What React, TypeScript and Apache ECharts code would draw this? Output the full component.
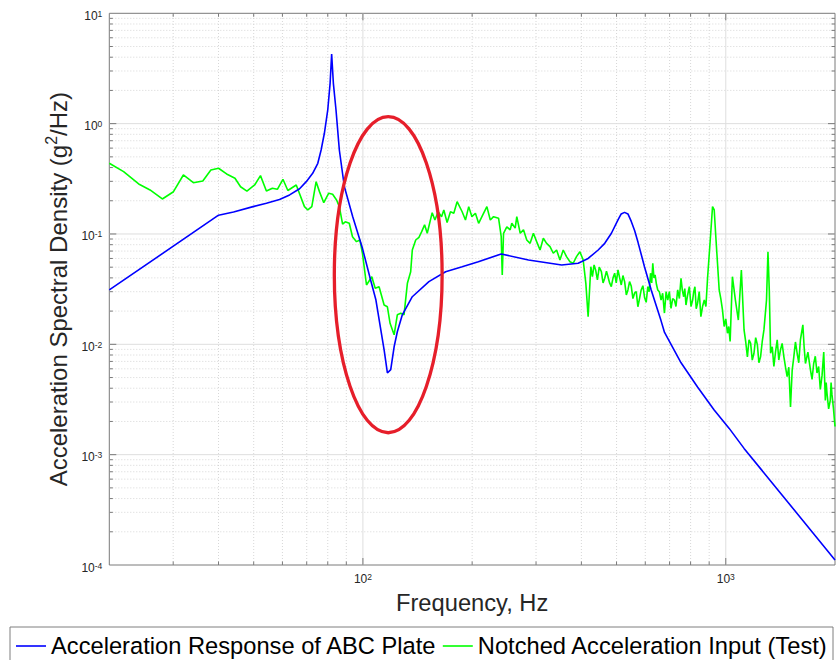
import React, { useEffect, useRef } from 'react';
import * as echarts from 'echarts';

// Acceleration Response of ABC Plate (frequency Hz, ASD g^2/Hz)
const blueFreq = [20, 40, 44, 49.8, 54.2, 58.9, 62.8, 66.9, 69.8, 72.7, 75.1, 76.7, 78.3, 80, 81.2, 82, 82.9, 84.3, 86.1, 88.9, 93.7, 99.7, 105, 108.6, 114.4, 116.8, 119.3, 121.9, 124.4, 128.4, 136.8, 152, 169, 187.7, 208, 240.5, 286, 353, 392, 417.5, 445, 463.9, 484, 504.6, 515, 526, 537.5, 549, 561, 573, 597, 623, 663, 678, 753, 836, 929, 1022, 1123, 2000];
const blueAsd = [0.0311, 0.148, 0.158, 0.177, 0.19, 0.205, 0.226, 0.257, 0.298, 0.355, 0.437, 0.577, 0.818, 1.33, 2.32, 4.28, 2.32, 1.33, 0.577, 0.268, 0.144, 0.0741, 0.0383, 0.0252, 0.0089, 0.0055, 0.0059, 0.0095, 0.013, 0.0185, 0.027, 0.037, 0.0455, 0.0505, 0.0561, 0.0659, 0.058, 0.0524, 0.0543, 0.06, 0.0716, 0.0823, 0.1015, 0.134, 0.152, 0.157, 0.152, 0.13, 0.107, 0.084, 0.0505, 0.0311, 0.0164, 0.0128, 0.0068, 0.0041, 0.00254, 0.00173, 0.00114, 0.000111];

// Notched Acceleration Input (Test)
const greenFreq = [
  20, 21.9, 24.1, 25.9, 28, 30.05, 32, 34.1, 36.2, 38.1, 40, 42.1, 44.4, 46, 47.9, 50.3, 52.2, 54.2, 56.3, 58.1, 60.2, 62.1, 65.5, 69, 70.5, 72.3, 74.3, 75.9, 78, 80.5, 82.5, 84.6, 86.1, 87.9, 89.4, 91.7, 93.6, 96, 98.1, 99.7, 102.3, 105.8, 108.1, 110.8, 114.4, 116.8, 118.8, 121.9, 124.4, 127.1, 129.8, 132.6, 135.4, 136.8, 139.8, 142.7, 145.2, 147.9, 150.4, 155.2, 157.9, 161.2, 164.7, 167.1, 170.6, 174.3, 178, 181.8, 187.7, 191.7, 195.7, 199.7, 204.2, 208.4, 212.8, 219.6, 224.4, 229.1, 236.5, 240.5, 242.1, 244.1, 249.2, 254.6, 257.2, 262.8, 265.5, 271.3, 277, 282.8, 288.9, 295, 301.2, 307.7, 314.2, 320.8, 327.8, 334.7, 341.8, 349.1, 356.5, 364, 372, 379.8, 387.8, 396.2, 404.6, 411.5, 417.5,
  424.7, 429, 433.6, 438, 442.8, 448, 454.1, 459, 463.9, 469,
  473.6, 478.5, 483.6, 489, 494.1, 499, 504.6, 510, 515.2, 520.7,
  526.3, 532, 537.5, 543, 548.8, 554.8, 560.8, 566.6, 572.5, 578.5,
  584.6, 591, 597.3, 603.5, 609.8, 615, 620.3, 625, 629.3, 634,
  638.6, 644, 649.5, 656, 663.2, 670, 677.6, 684.8, 692, 699,
  706.5, 714, 721.9, 729, 737.1, 745, 752.7, 759, 765.6, 771,
  776.8, 785, 793.6, 802, 810.4, 816, 822.2, 829, 836.3, 845,
  853.9, 863, 872.5, 881.6, 890.8, 906.2, 919.4, 929.3, 938.8, 959.1,
  969, 979.3, 989.9, 1000, 1011, 1019, 1028, 1043, 1063, 1083,
  1104, 1123, 1135, 1147, 1159, 1171, 1183, 1196, 1209, 1222,
  1234, 1247, 1260, 1274, 1295, 1307, 1318, 1329, 1343, 1357,
  1371, 1386, 1400, 1415, 1430, 1446, 1461, 1476, 1492, 1508,
  1524, 1540, 1556, 1573, 1589, 1606, 1631, 1644, 1658, 1684,
  1711, 1729, 1747, 1765, 1784, 1803, 1822, 1842, 1862, 1881,
  1891, 1901, 1921, 1941, 1951, 1962, 1981, 2000,
];
const greenAsd = [
  0.437, 0.367, 0.284, 0.2505, 0.2076, 0.2416, 0.3425, 0.2916, 0.302, 0.38, 0.394, 0.35, 0.32, 0.268, 0.245, 0.278, 0.338, 0.245, 0.26, 0.254, 0.313, 0.248, 0.278, 0.177, 0.165, 0.177, 0.298, 0.242, 0.192, 0.234, 0.229, 0.203, 0.177, 0.123, 0.129, 0.125, 0.0945, 0.0852, 0.0882, 0.0669, 0.0345, 0.041, 0.0322, 0.0333, 0.0227, 0.0219, 0.0155, 0.0122, 0.0185, 0.0191, 0.0185, 0.0357, 0.0455, 0.0716, 0.0882, 0.0933, 0.105, 0.121, 0.1015, 0.156, 0.134, 0.159, 0.1435, 0.165, 0.127, 0.159, 0.154, 0.196, 0.159, 0.134, 0.177, 0.1435, 0.154, 0.125, 0.1435, 0.177, 0.134, 0.1435, 0.139, 0.0945, 0.0425, 0.1015, 0.116, 0.109, 0.125, 0.113, 0.1435, 0.1015, 0.109, 0.0882, 0.0823, 0.1015, 0.0852, 0.0716, 0.0914, 0.0823, 0.0767, 0.0669, 0.0716, 0.0581, 0.0716, 0.0623, 0.0561, 0.0543, 0.0623, 0.0691, 0.0581, 0.0357, 0.0178,
  0.0505, 0.041, 0.0524, 0.047, 0.0383, 0.05, 0.0455, 0.036, 0.0397, 0.046,
  0.041, 0.036, 0.0333, 0.04, 0.0441, 0.036, 0.0472, 0.04, 0.0345, 0.042,
  0.037, 0.028, 0.0311, 0.037, 0.0338, 0.026, 0.0292, 0.03, 0.0219, 0.026,
  0.0311, 0.034, 0.0266, 0.024, 0.0333, 0.03, 0.0441, 0.036, 0.0543, 0.04,
  0.0425, 0.035, 0.0311, 0.03, 0.0252, 0.029, 0.0192, 0.03, 0.0252, 0.03,
  0.0212, 0.026, 0.0252, 0.022, 0.0311, 0.026, 0.0397, 0.031, 0.027, 0.032,
  0.0227, 0.028, 0.0333, 0.022, 0.0252, 0.03, 0.0333, 0.021, 0.0236, 0.03,
  0.0178, 0.022, 0.0252, 0.022, 0.0397, 0.0882, 0.177, 0.165, 0.0945, 0.0311,
  0.026, 0.0205, 0.0145, 0.017, 0.0126, 0.0145, 0.0106, 0.041, 0.0252, 0.0166,
  0.0472, 0.0135, 0.0105, 0.0077, 0.011, 0.0102, 0.0072, 0.0083, 0.0115, 0.0099,
  0.0068, 0.0077, 0.0105, 0.0135, 0.0252, 0.0691, 0.0311, 0.0083, 0.0095, 0.0063,
  0.0085, 0.011, 0.0072, 0.0089, 0.0102, 0.0077, 0.0062, 0.0051, 0.0062, 0.0027,
  0.0058, 0.0077, 0.0105, 0.0083, 0.0068, 0.011, 0.015, 0.0095, 0.0067, 0.0085,
  0.0059, 0.0048, 0.0067, 0.0078, 0.0055, 0.0063, 0.0039, 0.0052, 0.0085, 0.0031,
  0.0045, 0.0036, 0.0026, 0.0031, 0.0045, 0.0035, 0.0026, 0.0018,
];

// axis ranges and tick values
const xRange = [20, 2000];
const yRange = [1e-4, 10];
const xMajorTicks = [100, 1000];
const xMinorTicks = [30, 40, 50, 60, 70, 80, 90, 200, 300, 400, 500, 600, 700, 800, 900];
const yMajorTicks = [1e-3, 1e-2, 1e-1, 1];
const yMinorTicks = [
  2e-4, 3e-4, 4e-4, 5e-4, 6e-4, 7e-4, 8e-4, 9e-4,
  2e-3, 3e-3, 4e-3, 5e-3, 6e-3, 7e-3, 8e-3, 9e-3,
  0.02, 0.03, 0.04, 0.05, 0.06, 0.07, 0.08, 0.09,
  0.2, 0.3, 0.4, 0.5, 0.6, 0.7, 0.8, 0.9,
  2, 3, 4, 5, 6, 7, 8, 9,
];

// red annotation ellipse extents (data coordinates)
const ellipseFreq = [83.4, 165.3];
const ellipseAsd = [0.00158, 1.156];

const FONT = "'Liberation Sans', Arial, Helvetica, sans-serif";
const SERIES_BLUE = 'Acceleration Response of ABC Plate';
const SERIES_GREEN = 'Notched Acceleration Input (Test)';

export default function App() {
  const ref = useRef<HTMLDivElement>(null);
  useEffect(() => {
    if (!ref.current) return;
    const chart = echarts.init(ref.current, null, { renderer: 'svg' });

    const expLabel = (v: number) => {
      const e = Math.log10(v);
      const r = Math.round(e);
      if (Math.abs(e - r) > 1e-6) return '';
      return `{b|10}{s|${r}}`;
    };
    const labelRich = {
      b: { fontSize: 12, lineHeight: 14, padding: [5, 0, 0, 0], color: '#262626', fontFamily: FONT },
      s: { fontSize: 8.5, lineHeight: 10, padding: [3, 0, 0, 0], verticalAlign: 'top', color: '#262626', fontFamily: FONT },
    };

    const gridRender = (_params: any, api: any) => {
      const ch: any[] = [];
      const major = { stroke: '#dedede', lineWidth: 1 };
      const minor = { stroke: '#cdcdcd', lineWidth: 0.8, lineDash: [1, 2] };
      const tickStyle = { stroke: '#7a7a7a', lineWidth: 1 };
      const seg = (a: number[], b: number[], style: any) =>
        ch.push({ type: 'line', shape: { x1: a[0], y1: a[1], x2: b[0], y2: b[1] }, style });
      xMinorTicks.forEach((x) => seg(api.coord([x, yRange[0]]), api.coord([x, yRange[1]]), minor));
      yMinorTicks.forEach((y) => seg(api.coord([xRange[0], y]), api.coord([xRange[1], y]), minor));
      xMajorTicks.forEach((x) => seg(api.coord([x, yRange[0]]), api.coord([x, yRange[1]]), major));
      yMajorTicks.forEach((y) => seg(api.coord([xRange[0], y]), api.coord([xRange[1], y]), major));
      const xt = (x: number, len: number) => {
        const a = api.coord([x, yRange[0]]);
        const b = api.coord([x, yRange[1]]);
        seg(a, [a[0], a[1] - len], tickStyle);
        seg(b, [b[0], b[1] + len], tickStyle);
      };
      const yt = (y: number, len: number) => {
        const a = api.coord([xRange[0], y]);
        const b = api.coord([xRange[1], y]);
        seg(a, [a[0] + len, a[1]], tickStyle);
        seg(b, [b[0] - len, b[1]], tickStyle);
      };
      xMajorTicks.forEach((x) => xt(x, 7));
      xMinorTicks.forEach((x) => xt(x, 3.5));
      yMajorTicks.forEach((y) => yt(y, 7));
      yMinorTicks.forEach((y) => yt(y, 3.5));
      return { type: 'group', children: ch };
    };

    const ellipseRender = (_params: any, api: any) => {
      const cf = Math.sqrt(ellipseFreq[0] * ellipseFreq[1]);
      const cv = Math.sqrt(ellipseAsd[0] * ellipseAsd[1]);
      const l = api.coord([ellipseFreq[0], cv]);
      const r = api.coord([ellipseFreq[1], cv]);
      const t = api.coord([cf, ellipseAsd[1]]);
      const b = api.coord([cf, ellipseAsd[0]]);
      return {
        type: 'ellipse',
        shape: { cx: (l[0] + r[0]) / 2, cy: (t[1] + b[1]) / 2, rx: (r[0] - l[0]) / 2, ry: (b[1] - t[1]) / 2 },
        style: { fill: 'none', stroke: '#e61e2a', lineWidth: 3.3 },
      };
    };

    chart.setOption({
      animation: false,
      textStyle: { fontFamily: FONT },
      grid: { left: 109.3, top: 13.3, right: 0.8, bottom: 95, show: true, borderColor: '#7a7a7a', borderWidth: 1, backgroundColor: '#ffffff' },
      legend: {
        data: [
          { name: SERIES_BLUE, icon: 'rect' },
          { name: SERIES_GREEN, icon: 'rect' },
        ],
        left: 10,
        top: 627,
        padding: [7, 5, 7, 6],
        itemGap: 6,
        itemWidth: 30,
        itemHeight: 1.6,
        borderColor: '#7f7f7f',
        borderWidth: 1,
        textStyle: { fontSize: 23.7, color: '#000', fontFamily: FONT },
      },
      xAxis: {
        type: 'log',
        logBase: 10,
        min: xRange[0],
        max: xRange[1],
        splitNumber: 2,
        axisLine: { show: false },
        axisTick: { show: false },
        splitLine: { show: false },
        axisLabel: { formatter: expLabel, margin: 4, rich: labelRich, showMinLabel: true, showMaxLabel: true },
        name: 'Frequency, Hz',
        nameLocation: 'middle',
        nameGap: 26,
        nameTextStyle: { fontSize: 23.7, color: '#262626', fontFamily: FONT },
      },
      yAxis: {
        type: 'log',
        logBase: 10,
        min: yRange[0],
        max: yRange[1],
        splitNumber: 5,
        axisLine: { show: false },
        axisTick: { show: false },
        splitLine: { show: false },
        axisLabel: { formatter: expLabel, margin: 7, rich: labelRich },
        name: '{n|Acceleration Spectral Density (g}{sup|2}{n|/Hz)}',
        nameLocation: 'middle',
        nameGap: 27,
        nameTextStyle: {
          color: '#262626',
          rich: {
            n: { fontSize: 24, lineHeight: 30, color: '#262626', fontFamily: FONT },
            sup: { fontSize: 16, lineHeight: 18, verticalAlign: 'top', color: '#262626', fontFamily: FONT },
          },
        },
      },
      series: [
        {
          type: 'custom',
          silent: true,
          z: 1,
          renderItem: gridRender,
          data: [[100, 0.01]],
        },
        {
          name: SERIES_BLUE,
          type: 'line',
          symbol: 'none',
          z: 3,
          lineStyle: { color: '#0000ff', width: 1.6 },
          itemStyle: { color: '#0000ff' },
          data: blueFreq.map((f, i) => [f, blueAsd[i]]),
        },
        {
          name: SERIES_GREEN,
          type: 'line',
          symbol: 'none',
          z: 2,
          lineStyle: { color: '#00ff00', width: 1.6 },
          itemStyle: { color: '#00ff00' },
          data: greenFreq.map((f, i) => [f, greenAsd[i]]),
        },
        {
          type: 'custom',
          silent: true,
          z: 5,
          renderItem: ellipseRender,
          data: [[100, 0.01]],
        },
      ],
    });
    return () => chart.dispose();
  }, []);
  return <div ref={ref} style={{ position: 'fixed', left: 0, top: 0, width: 838, height: 660, background: '#fff' }} />;
}
